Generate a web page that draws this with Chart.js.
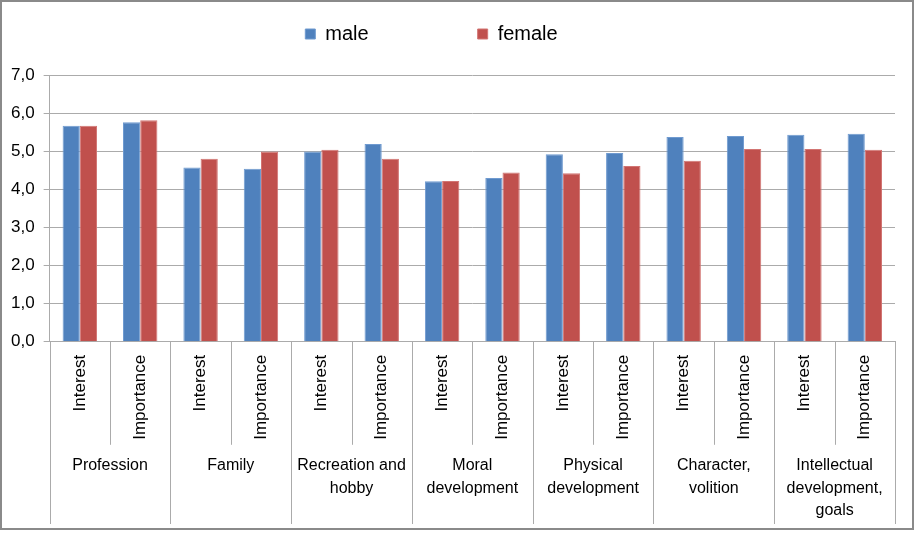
<!DOCTYPE html>
<html>
<head>
<meta charset="utf-8">
<script src="https://cdn.jsdelivr.net/npm/chart.js@4.4.1/dist/chart.umd.min.js"></script>
<style>
  body { margin: 0; background: #fff; }
  #wrap {
    position: absolute; left: 0; top: 0;
    width: 914px; height: 530px;
    border: 2px solid #8a8a8a; box-sizing: border-box;
  }
</style>
</head>
<body>
<div id="wrap"><canvas id="lifeChart"></canvas></div>
<script>
// ---- data ----
const groups = [
  'Profession', 'Family', ['Recreation and', 'hobby'], ['Moral', 'development'],
  ['Physical', 'development'], ['Character,', 'volition'],
  ['Intellectual', 'development,', 'goals']
];
const subLabels = [
  'Interest', 'Importance', 'Interest', 'Importance', 'Interest', 'Importance',
  'Interest', 'Importance', 'Interest', 'Importance', 'Interest', 'Importance',
  'Interest', 'Importance'
];
const maleValues   = [5.67, 5.76, 4.57, 4.54, 4.99, 5.19, 4.21, 4.30, 4.92, 4.95, 5.37, 5.40, 5.43, 5.46];
const femaleValues = [5.67, 5.81, 4.80, 4.99, 5.04, 4.80, 4.22, 4.44, 4.42, 4.61, 4.75, 5.06, 5.06, 5.04];
const yTicks = [0, 1, 2, 3, 4, 5, 6, 7];

const blue = '#4F81BD';
const red  = '#C0504D';
const gridGray = '#ababab';
const font = 'Liberation Sans';
const legendGap = 109;   // space between the two legend entries

// dividers under the plot: short ones between Interest/Importance, long ones between groups
const dividers = {
  id: 'dividers',
  afterDraw(chart) {
    const x = chart.scales.x, x2 = chart.scales.x2;
    const ctx = chart.ctx;
    const half = (x.getPixelForValue(1) - x.getPixelForValue(0)) / 2;
    const top = chart.chartArea.bottom;
    ctx.save();
    ctx.strokeStyle = gridGray;
    ctx.lineWidth = 1;
    for (let k = 0; k <= subLabels.length; k++) {
      const px = k === subLabels.length
        ? x.getPixelForValue(k - 1) + half
        : x.getPixelForValue(k) - half;
      const bottom = k % 2 === 0 ? x2.bottom : x.bottom;
      ctx.beginPath();
      ctx.moveTo(Math.round(px) + 0.5, top);
      ctx.lineTo(Math.round(px) + 0.5, bottom);
      ctx.stroke();
    }
    ctx.restore();
  }
};

// legend padding is used both ways, so keep its box short and lift the items back up
const legendSpace = {
  id: 'legendSpace',
  beforeInit(chart) {
    const fit = chart.legend.fit;
    chart.legend.fit = function () {
      fit.bind(chart.legend)();
      this.height = 73;
    };
  },
  afterLayout(chart) {
    const lg = chart.legend;
    lg.top -= legendGap - 22;   // only the top moves, so the clip box still holds the items
    lg.right -= 34;
  }
};

new Chart(document.getElementById('lifeChart'), {
  type: 'bar',
  data: {
    labels: subLabels,
    datasets: [
      { label: 'male', data: maleValues, backgroundColor: blue, borderColor: '#6f9ad0', borderWidth: 1 },
      { label: 'female', data: femaleValues, backgroundColor: red, borderColor: '#d27573', borderWidth: 1 }
    ]
  },
  options: {
    responsive: true,
    maintainAspectRatio: false,
    animation: false,
    categoryPercentage: 0.57,
    barPercentage: 1.0,
    layout: { padding: { top: 0, right: 17, bottom: 4, left: 0 } },
    plugins: {
      legend: {
        position: 'top',
        labels: {
          boxWidth: 10, boxHeight: 10, padding: legendGap,
          color: '#000', font: { family: font, size: 20 }
        }
      },
      tooltip: { enabled: false }
    },
    scales: {
      y: {
        min: 0, max: 7,
        afterBuildTicks: axis => { axis.ticks = yTicks.map(v => ({ value: v })); },
        ticks: {
          color: '#000', padding: 9, autoSkip: false,
          font: { family: font, size: 17 },
          callback: v => v.toFixed(1).replace('.', ',')
        },
        grid: { color: gridGray, tickLength: 6 },
        border: { color: gridGray }
      },
      x: {
        weight: 0,
        grid: { display: false },
        border: { color: gridGray },
        ticks: {
          color: '#000', autoSkip: false, minRotation: 90, maxRotation: 90, padding: 5,
          font: { family: font, size: 17 }
        }
      },
      x2: {
        type: 'category',
        position: 'bottom',
        weight: 1,
        labels: groups,
        offset: true,
        grid: { display: false },
        border: { display: false },
        ticks: {
          color: '#000', autoSkip: false, maxRotation: 0, padding: 2,
          font: { family: font, size: 16, lineHeight: 1.4 }
        }
      }
    }
  },
  plugins: [dividers, legendSpace]
});
</script>
</body>
</html>
